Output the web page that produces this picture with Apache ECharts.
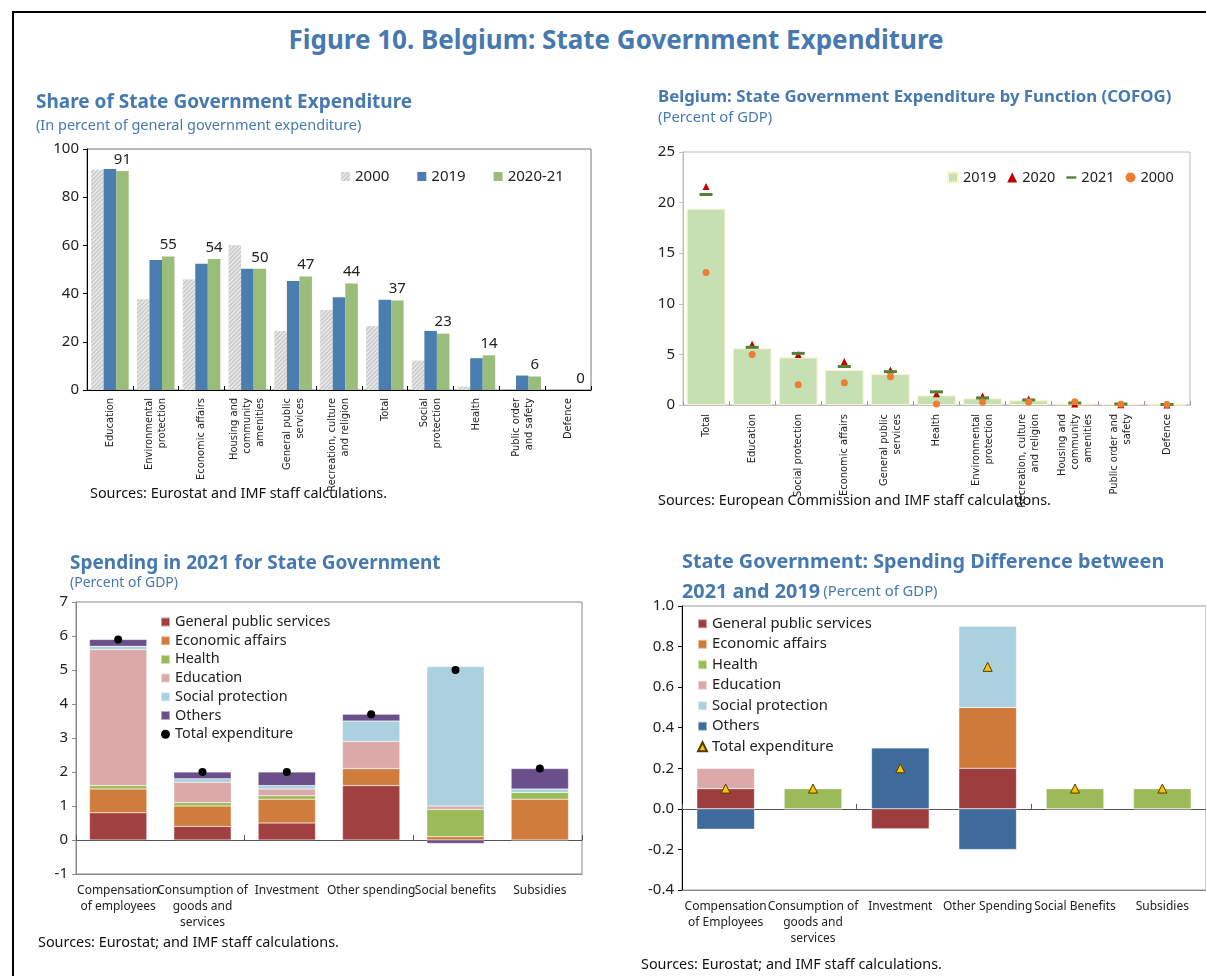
<!DOCTYPE html>
<html>
<head>
<meta charset="utf-8">
<script src="https://cdn.jsdelivr.net/npm/echarts@6/dist/echarts.min.js"></script>
<style>
  body { margin: 0; background: #fff; overflow: hidden; }
  #frame { position: absolute; left: 12px; top: 11px; width: 1300px; height: 1100px; border: 2px solid #000; }
  #head { position: absolute; left: 116px; top: 21px; width: 1000px; text-align: center; line-height: 32px;
          font: bold 26px "Noto Sans", "Open Sans", sans-serif; color: #4679b0; }
  .panel { position: absolute; }
</style>
</head>
<body>
<div id="frame"></div>
<div id="head">Figure 10. Belgium: State Government Expenditure</div>
<div id="c1" class="panel" style="left:0;top:70px;width:610px;height:450px"></div>
<div id="c2" class="panel" style="left:610px;top:70px;width:596px;height:450px"></div>
<div id="c3" class="panel" style="left:0;top:520px;width:610px;height:456px"></div>
<div id="c4" class="panel" style="left:610px;top:520px;width:596px;height:456px"></div>
<script>
// 1: share of state government expenditure (% of general government)
var shareCats = ['Education', 'Environmental\nprotection', 'Economic affairs', 'Housing and\ncommunity\namenities',
  'General public\nservices', 'Recreation, culture\nand religion', 'Total', 'Social\nprotection', 'Health',
  'Public order\nand safety', 'Defence'];
var share2000 = [91.4, 37.7, 45.8, 60.1, 24.5, 33.2, 26.6, 12.2, 1.4, 0, 0];
var share2019 = [91.7, 53.9, 52.4, 50.3, 45.2, 38.5, 37.4, 24.5, 13.2, 6.0, 0];
var share2021 = [90.9, 55.4, 54.4, 50.3, 47.1, 44.2, 37.1, 23.4, 14.4, 5.6, 0];

// 2: by function, percent of GDP
var cofogCats = ['Total', 'Education', 'Social protection', 'Economic affairs', 'General public\nservices', 'Health',
  'Environmental\nprotection', 'Recreation, culture\nand religion', 'Housing and\ncommunity\namenities',
  'Public order and\nsafety', 'Defence'];
var cofog2019 = [19.4, 5.6, 4.7, 3.45, 3.06, 0.95, 0.66, 0.46, 0.16, 0.07, 0.03];
var cofog2020 = [21.6, 6.0, 5.0, 4.3, 3.45, 1.1, 0.9, 0.6, 0.1, 0.02, 0.0];
var cofog2021 = [20.8, 5.7, 5.1, 3.8, 3.3, 1.3, 0.7, 0.5, 0.2, 0.1, 0.05];
var cofog2000 = [13.1, 5.0, 2.0, 2.2, 2.8, 0.1, 0.3, 0.3, 0.33, 0.07, 0.05];

// 3: spending in 2021
var ecoCats3 = ['Compensation\nof employees', 'Consumption of\ngoods and\nservices', 'Investment', 'Other spending',
  'Social benefits', 'Subsidies'];
var s21Gps = [0.8, 0.4, 0.5, 1.6, 0, 0];
var s21Econ = [0.7, 0.6, 0.7, 0.5, 0.1, 1.2];
var s21Health = [0.1, 0.1, 0.1, 0, 0.8, 0.2];
var s21Edu = [4.0, 0.6, 0.2, 0.8, 0.1, 0];
var s21Soc = [0.1, 0.1, 0.1, 0.6, 4.1, 0.1];
var s21Oth = [0.2, 0.2, 0.4, 0.2, -0.1, 0.6];
var s21Total = [5.9, 2.0, 2.0, 3.7, 5.0, 2.1];

// 4: difference 2021 vs 2019
var ecoCats4 = ['Compensation\nof Employees', 'Consumption of\ngoods and\nservices', 'Investment', 'Other Spending',
  'Social Benefits', 'Subsidies'];
var dGps = [0.1, 0, -0.1, 0.2, 0, 0];
var dEcon = [0, 0, 0, 0.3, 0, 0];
var dHealth = [0, 0.1, 0, 0, 0.1, 0.1];
var dEdu = [0.1, 0, 0, 0, 0, 0];
var dSoc = [0, 0, 0, 0.4, 0, 0];
var dOth = [-0.1, 0, 0.3, -0.2, 0, 0];
var dTotal = [0.1, 0.1, 0.2, 0.7, 0.1, 0.1];

var FONT = '"Noto Sans", "Open Sans", sans-serif';
var NARROW = '"Liberation Sans Narrow", "DejaVu Sans Condensed", "Noto Sans", sans-serif';
var BLUE = '#4679b0';
var INK = '#222';

function txt(x, y, s, font, color) {
  return { type: 'text', x: x, y: y, silent: true,
    style: { text: s, font: font, fill: color || INK, verticalAlign: 'middle' } };
}

function yAx(min, max, step, lineColor, fmt) {
  return {
    type: 'value', min: min, max: max, interval: step,
    axisLine: { show: true, lineStyle: { color: lineColor } },
    axisTick: { show: true, length: 4, lineStyle: { color: lineColor } },
    splitLine: { show: false },
    axisLabel: { fontSize: 15, color: INK, margin: 8, formatter: fmt }
  };
}

// ---- chart 1
var c1 = echarts.init(document.getElementById('c1'));
c1.setOption({
  animation: false,
  textStyle: { fontFamily: FONT },
  graphic: [
    txt(36, 33, 'Share of State Government Expenditure', 'bold 19px ' + FONT, BLUE),
    txt(36, 56, '(In percent of general government expenditure)', '14.5px ' + FONT, BLUE),
    txt(90, 424, 'Sources: Eurostat and IMF staff calculations.', '14.4px ' + FONT, '#111')
  ],
  legend: {
    left: 336, top: 94, itemWidth: 9, itemHeight: 9, itemGap: 28, icon: 'rect',
    textStyle: { fontSize: 15, color: INK }, data: ['2000', '2019', '2020-21']
  },
  grid: { left: 87, top: 79, width: 504, height: 241, show: true, borderColor: '#777', borderWidth: 1 },
  xAxis: {
    type: 'category', data: shareCats,
    axisLine: { lineStyle: { color: '#000' } },
    axisTick: { show: true, inside: true, length: 4, lineStyle: { color: '#000' } },
    axisLabel: { interval: 0, rotate: 90, fontSize: 11, lineHeight: 13, fontFamily: NARROW, color: INK, margin: 8 }
  },
  yAxis: yAx(0, 100, 20, '#000'),
  series: [
    { name: '2000', type: 'bar', data: share2000, barGap: '0%', barCategoryGap: '18%',
      itemStyle: { color: '#cdcdcd',
        decal: { symbol: 'rect', symbolSize: 1, color: 'rgba(255,255,255,0.75)',
                 dashArrayX: [1, 0], dashArrayY: [1, 2], rotation: -Math.PI / 4 } } },
    { name: '2019', type: 'bar', data: share2019, itemStyle: { color: '#4a7eb0' } },
    { name: '2020-21', type: 'bar', data: share2021, itemStyle: { color: '#9bbd7b' },
      label: { show: true, position: 'top', distance: 4, fontSize: 15, color: INK,
               formatter: function (p) { return Math.round(p.value); } } }
  ]
});

// ---- chart 2
var c2 = echarts.init(document.getElementById('c2'));
c2.setOption({
  animation: false,
  textStyle: { fontFamily: FONT },
  graphic: [
    txt(48, 27, 'Belgium: State Government Expenditure by Function (COFOG)', 'bold 16.8px ' + FONT, BLUE),
    txt(48, 48, '(Percent of GDP)', '14.8px ' + FONT, BLUE),
    txt(48, 431, 'Sources: European Commission and IMF staff calculations.', '14.4px ' + FONT, '#111')
  ],
  legend: {
    left: 332, top: 95, itemWidth: 10, itemHeight: 10, itemGap: 11,
    textStyle: { fontSize: 14.5, color: INK },
    data: [
      { name: '2019', icon: 'rect' },
      { name: '2020', icon: 'triangle' },
      { name: '2021', icon: 'path://M0,0L10,0L10,2.4L0,2.4Z' },
      { name: '2000', icon: 'circle' }
    ]
  },
  grid: { left: 73, top: 82, width: 507, height: 253, show: true, borderColor: '#bfbfbf', borderWidth: 1 },
  xAxis: {
    type: 'category', data: cofogCats,
    axisLine: { lineStyle: { color: '#bfbfbf' } },
    axisTick: { show: true, inside: true, length: 4, lineStyle: { color: '#999' } },
    axisLabel: { interval: 0, rotate: 90, fontSize: 11, lineHeight: 13, fontFamily: NARROW, color: INK, margin: 9 }
  },
  yAxis: yAx(0, 25, 5, '#bfbfbf'),
  series: [
    { name: '2019', type: 'bar', data: cofog2019, barCategoryGap: '16%',
      itemStyle: { color: '#c6e0b4', borderColor: '#fff2cc', borderWidth: 1 } },
    { name: '2020', type: 'scatter', data: cofog2020, symbol: 'triangle', symbolSize: 7,
      itemStyle: { color: '#c00000', opacity: 1 } },
    { name: '2021', type: 'scatter', data: cofog2021, symbol: 'rect', symbolSize: [13, 3],
      itemStyle: { color: '#548235', opacity: 1 } },
    { name: '2000', type: 'scatter', data: cofog2000, symbol: 'circle', symbolSize: 7,
      itemStyle: { color: '#ed7d31', opacity: 1 } }
  ]
});

// ---- stacked bar panels
function stackSeries(names, arrays, colors, gap) {
  return names.map(function (n, i) {
    return { name: n, type: 'bar', stack: 'fn', data: arrays[i], barCategoryGap: gap,
             itemStyle: { color: colors[i], borderColor: 'rgba(255,255,255,0.5)', borderWidth: 0.5 } };
  });
}
var fnNames = ['General public services', 'Economic affairs', 'Health', 'Education', 'Social protection', 'Others'];

function ecoAxes(cats) {
  return [
    { type: 'category', data: cats, position: 'bottom',
      axisLine: { onZero: false, lineStyle: { color: '#888' } }, axisTick: { show: false },
      axisLabel: { interval: 0, fontSize: 12, lineHeight: 16, color: INK, margin: 9 } },
    { type: 'category', data: cats, position: 'top',
      axisLine: { onZero: true, onZeroAxisIndex: 0, lineStyle: { color: '#555' } },
      axisTick: { show: true, length: 5, lineStyle: { color: '#555' } },
      axisLabel: { show: false } }
  ];
}

var c3 = echarts.init(document.getElementById('c3'));
c3.setOption({
  animation: false,
  textStyle: { fontFamily: FONT },
  graphic: [
    txt(70, 44, 'Spending in 2021 for State Government', 'bold 19px ' + FONT, BLUE),
    txt(70, 63, '(Percent of GDP)', '14px ' + FONT, BLUE),
    txt(38, 423, 'Sources: Eurostat; and IMF staff calculations.', '14.4px ' + FONT, '#111')
  ],
  legend: {
    left: 155, top: 89, orient: 'vertical', itemWidth: 9, itemHeight: 9, itemGap: 2.7,
    textStyle: { fontSize: 14.4, color: INK, lineHeight: 16 },
    data: fnNames.map(function (n) { return { name: n, icon: 'rect' }; })
      .concat([{ name: 'Total expenditure', icon: 'circle' }])
  },
  grid: { left: 76, top: 82, width: 506, height: 272, show: true, borderColor: '#888', borderWidth: 1 },
  xAxis: ecoAxes(ecoCats3),
  yAxis: yAx(-1, 7, 1, '#888'),
  series: stackSeries(fnNames, [s21Gps, s21Econ, s21Health, s21Edu, s21Soc, s21Oth],
    ['#a04040', '#d07c3c', '#9bbb59', '#dca9a9', '#abd0de', '#6a4f8a'], '32%')
    .concat([{ name: 'Total expenditure', type: 'scatter', data: s21Total, symbol: 'circle', symbolSize: 8,
               itemStyle: { color: '#000', opacity: 1 }, z: 5 }])
});

var c4 = echarts.init(document.getElementById('c4'));
c4.setOption({
  animation: false,
  textStyle: { fontFamily: FONT },
  graphic: [
    txt(72, 42, 'State Government: Spending Difference between', 'bold 19.8px ' + FONT, BLUE),
    { type: 'text', x: 72, y: 72, silent: true,
      style: { text: '{b|2021 and 2019} {n|(Percent of GDP)}', verticalAlign: 'middle', fill: BLUE,
               rich: { b: { font: 'bold 19.8px ' + FONT, fill: BLUE }, n: { font: '14.8px ' + FONT, fill: BLUE } } } },
    txt(31, 445, 'Sources: Eurostat; and IMF staff calculations.', '14.4px ' + FONT, '#111')
  ],
  legend: {
    left: 82, top: 90, orient: 'vertical', itemWidth: 9, itemHeight: 9, itemGap: 3,
    textStyle: { fontSize: 14.8, color: INK, lineHeight: 17.5 },
    data: fnNames.map(function (n) { return { name: n, icon: 'rect' }; })
      .concat([{ name: 'Total expenditure', icon: 'triangle' }])
  },
  grid: { left: 72, top: 86, width: 528, height: 284, show: true, borderColor: '#999', borderWidth: 1 },
  xAxis: ecoAxes(ecoCats4),
  yAxis: yAx(-0.4, 1.0, 0.2, '#000', function (v) { return v.toFixed(1); }),
  series: stackSeries(fnNames, [dGps, dEcon, dHealth, dEdu, dSoc, dOth],
    ['#9e3d3d', '#cf7a38', '#9bbb59', '#dca9a9', '#abd0de', '#3f6a9c'], '34%')
    .concat([{ name: 'Total expenditure', type: 'scatter', data: dTotal, symbol: 'triangle', symbolSize: 9,
               itemStyle: { color: '#ffc000', borderColor: '#4d3d00', borderWidth: 1, opacity: 1 }, z: 5 }])
});
</script>
</body>
</html>
